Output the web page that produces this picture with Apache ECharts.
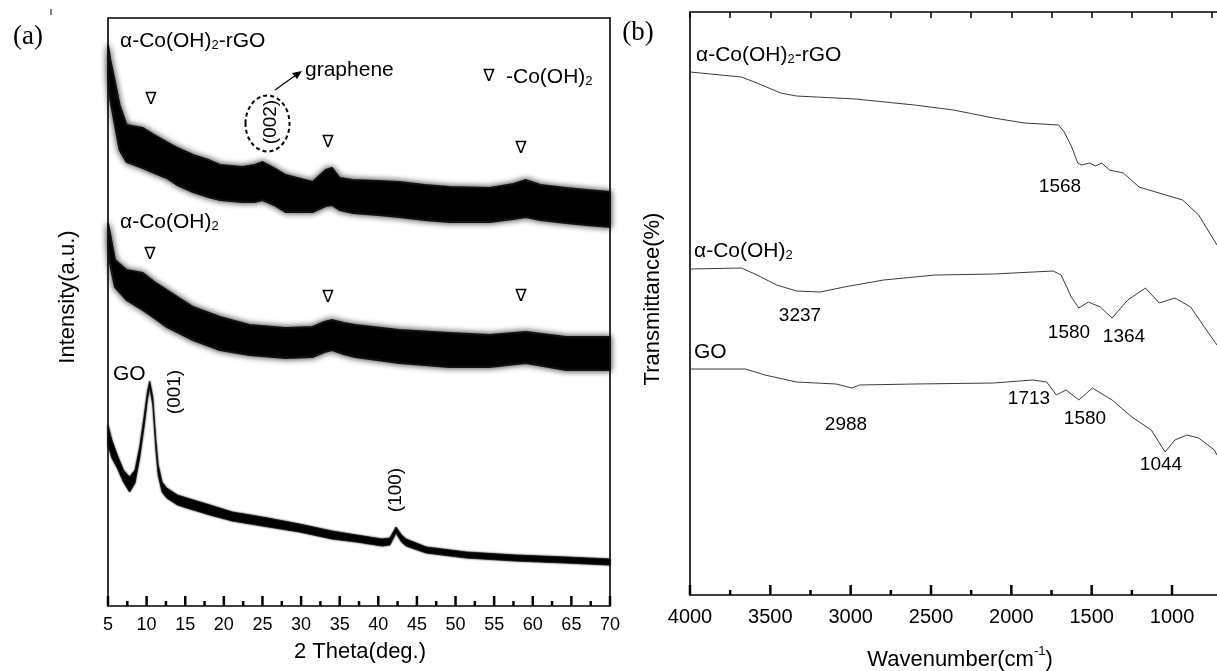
<!DOCTYPE html>
<html><head><meta charset="utf-8">
<script src="https://cdn.jsdelivr.net/npm/echarts@6/dist/echarts.min.js"></script>
<style>html,body{margin:0;padding:0;background:#fff}#c{width:1217px;height:671px}</style>
</head><body><div id="c"></div>
<script>
// ---------- (a) XRD data: band envelopes (intensity a.u.) ----------
const thetaRGO = [5.0,5.3,5.9,6.5,7.4,9.5,11,12.6,14,16,18,19.5,22.4,24,25,26.5,28,31.5,33.2,34,35,36.7,40,42.7,46,49.2,54.4,57.5,59.1,61,64.3,67,70];
const upperRGO = [561,546,524,501,481,478,471,464,458,451,446,441,439,441,444,438,431,424,436,438,428,426,425,424,421,419,418,422,426,421,418,416,414];
const lowerRGO = [531,506,481,456,444,438,433,428,421,414,409,406,404,404,406,401,394,394,400,401,396,393,391,389,386,384,384,387,389,386,383,381,379];

const thetaCo = [5.0,5.3,5.9,7.4,9.5,11,12.6,16,19.5,23.3,28,31.5,33,34,35.5,37,42.7,49.2,54.4,59.1,64.3,70];
const upperCo = [383,371,346,336,333,324,316,299,289,281,278,279,284,286,283,281,276,273,271,274,269,269];
const lowerCo = [361,341,319,306,296,288,279,266,256,251,248,249,254,256,252,249,243,239,239,243,236,236];

const thetaGO = [5.0,5.5,6.2,7.0,7.8,8.5,9.1,9.7,10.1,10.4,10.8,11.2,11.5,12.0,12.6,14,15.2,18.2,21.1,25,29.8,34,37.2,40.5,41.5,42.3,43.0,43.6,46.2,51.4,57.8,64.3,70];
const upperGO = [181,166,151,136,129,136,159,191,214,225,209,166,141,124,118,111,108,101,94,89,82,75,71,67,68,79,71,67,59,54,51,49,47];
const lowerGO = [161,148,138,124,114,123,148,181,206,219,201,156,131,114,108,101,98,91,85,80,74,67,64,60,61,73,64,60,53,48,45,43,41];

// ---------- (b) FTIR data (transmittance, offset a.u.) ----------
const wnRGO = [4000,3680,3583,3436,3337,2970,2603,2360,2111,1917,1706,1671,1624,1587,1562,1513,1476,1438,1389,1303,1205,1081,934,834,720];
const trRGO = [523,518,512,502,499,496,490,485,477,472,470,463,448,432,430,432,429,432,425,422,408,402,395,380,350];
const wnCo = [4000,3680,3583,3460,3337,3190,3040,2795,2475,2111,1740,1690,1627,1580,1520,1447,1373,1275,1165,1080,982,884,786,720];
const trCo = [326,327,320,310,304,303,308,315,320,321,324,320,298,287,293,288,277,295,307,292,297,288,265,250];
const wnGO = [4000,3655,3534,3337,3091,2993,2944,2603,2111,1866,1780,1720,1660,1580,1496,1373,1250,1129,1043,982,908,834,736,720];
const trGO = [226,226,220,213,211,207,210,211,212,215,213,200,205,195,207,195,178,165,143,155,160,157,145,140];

// tick values
const thetaMajor = [5,10,15,20,25,30,35,40,45,50,55,60,65,70];
const thetaMinor = [7.5,12.5,17.5,22.5,27.5,32.5,37.5,42.5,47.5,52.5,57.5,62.5,67.5];
const wnMajor = [1000,1500,2000,2500,3000,3500,4000];
const wnMinor = [1250,1750,2250,2750,3250,3750];
const wnTop = [750,1000,1250,1500,1750,2000,2250,2500,2750,3000,3250,3500,3750,4000];

const FONT = 'Liberation Sans';
const chart = echarts.init(document.getElementById('c'), null, {renderer:'canvas'});

function band(theta, up, lo, name, blur) {
  return {type:'custom', name:name, xAxisIndex:0, yAxisIndex:0, silent:true, z:1,
    data: theta.map((t,i)=>[t, up[i], lo[i]]),
    encode:{x:0, y:[1,2]},
    renderItem:function(params, api){
      if (params.dataIndex !== 0) return null;
      const pts = [];
      for (let i=0;i<theta.length;i++) pts.push(api.coord([theta[i], up[i]]));
      for (let i=theta.length-1;i>=0;i--) pts.push(api.coord([theta[i], lo[i]]));
      return {type:'polygon', shape:{points:pts}, style:{fill:'#000', stroke:'#111', lineWidth:blur>3?2:0.8, shadowBlur:blur, shadowColor:'rgba(0,0,0,0.75)'}};
    }};
}
function ftir(wn, tr, name) {
  return {type:'line', name:name, xAxisIndex:2, yAxisIndex:2, data:wn.map((w,i)=>[w,tr[i]]), symbol:'none', lineStyle:{width:1,color:'#3a3a3a'}, silent:true};
}
// inward tick marks on a bottom axis, placed at axis values through the chart's scales
function tickMarks(xi, yi, vals, len) {
  return {type:'scatter', xAxisIndex:xi, yAxisIndex:yi, silent:true, clip:false, z:5,
    data: vals.map(v=>[v,0]), symbol:'rect', symbolSize:[2.5,len], symbolOffset:[0,-len/2],
    itemStyle:{color:'#000', opacity:1}};
}

const axLine = () => ({show:true, onZero:false, lineStyle:{color:'#000', width:1.6}});
const tsty = {color:'#000', width:1.5};
const txt = (x,y,t,o={}) => ({type:'text', x, y, rotation:o.rot||0, style:{text:t, fill:'#000', font:(o.size||20)+'px "'+(o.family||FONT)+'"', textAlign:o.align||'left', textVerticalAlign:'middle'}});
const sub = (x,y,parts,size) => ({type:'text', x, y, style:{text:parts, fill:'#000', textAlign:'left', textVerticalAlign:'middle',
  rich:{n:{fontFamily:FONT,fontSize:size,lineHeight:24,verticalAlign:'bottom'}, s:{fontFamily:FONT,fontSize:Math.round(size*0.62),lineHeight:1,verticalAlign:'bottom'}}}});
const tri = (x,y) => txt(x,y,'∇',{size:17,family:'DejaVu Sans',align:'center'});

const option = {
  animation:false,
  backgroundColor:'#fff',
  grid:[
    {left:108, top:18, width:502, height:588},
    {left:690, top:12, width:527, height:583}
  ],
  xAxis:[
    {type:'value', gridIndex:0, min:5, max:70, interval:5, position:'bottom',
     axisLine:axLine(), axisTick:{show:false},
     axisLabel:{color:'#000', fontFamily:FONT, fontSize:18, margin:10, formatter:v=>String(v)}, splitLine:{show:false}},
    {type:'value', gridIndex:0, min:5, max:70, position:'top', axisLine:axLine(), axisTick:{show:false}, axisLabel:{show:false}, splitLine:{show:false}},
    {type:'value', gridIndex:1, min:720, max:4000, inverse:true, position:'bottom',
     axisLine:axLine(), axisTick:{show:false},
     axisLabel:{color:'#000', fontFamily:FONT, fontSize:20, margin:12, customValues:wnMajor, formatter:v=>String(v)}, splitLine:{show:false}},
    {type:'value', gridIndex:1, min:720, max:4000, inverse:true, position:'top',
     axisLine:axLine(), axisTick:{show:true, inside:true, length:6, lineStyle:tsty, customValues:wnTop},
     axisLabel:{show:false}, splitLine:{show:false}}
  ],
  yAxis:[
    {type:'value', gridIndex:0, min:0, max:588, position:'left', axisLine:axLine(), axisTick:{show:false}, axisLabel:{show:false}, splitLine:{show:false}},
    {type:'value', gridIndex:0, min:0, max:588, position:'right', axisLine:axLine(), axisTick:{show:false}, axisLabel:{show:false}, splitLine:{show:false}},
    {type:'value', gridIndex:1, min:0, max:583, position:'left', axisLine:axLine(), axisTick:{show:false}, axisLabel:{show:false}, splitLine:{show:false}}
  ],
  series:[
    band(thetaRGO, upperRGO, lowerRGO, 'rGO', 6),
    band(thetaCo, upperCo, lowerCo, 'Co', 6),
    band(thetaGO, upperGO, lowerGO, 'GO', 2),
    ftir(wnRGO, trRGO, 'ftir_rGO'),
    ftir(wnCo, trCo, 'ftir_Co'),
    ftir(wnGO, trGO, 'ftir_GO'),
    tickMarks(0, 0, thetaMajor, 10),
    tickMarks(0, 0, thetaMinor, 5),
    tickMarks(2, 2, wnMajor, 10),
    tickMarks(2, 2, wnMinor, 5)
  ],
  graphic:[
    // panel (a)
    txt(28,37,'(a)',{size:27,family:'Liberation Serif',align:'center'}),
    {type:'line', shape:{x1:51,y1:9,x2:51,y2:15}, style:{stroke:'#000',lineWidth:1}},
    sub(120,40,'{n|α-Co(OH)}{s|2}{n|-rGO}',21),
    txt(305,70,'graphene',{size:21}),
    {type:'line', shape:{x1:275,y1:90,x2:296,y2:75}, style:{stroke:'#000',lineWidth:1.2}},
    {type:'polygon', shape:{points:[[302,71],[292,73],[297,79]]}, style:{fill:'#000'}},
    {type:'ellipse', shape:{cx:267.5,cy:123.5,rx:22,ry:28}, style:{fill:'none',stroke:'#000',lineWidth:2,lineDash:[4,3]}},
    txt(271,122,'(002)',{size:19,align:'center',rot:Math.PI/2}),
    tri(489,77),
    sub(506,76,'{n|-Co(OH)}{s|2}',21),
    tri(151,100), tri(328,143), tri(521,149),
    sub(120,221,'{n|α-Co(OH)}{s|2}',21),
    tri(150,255), tri(328,298), tri(521,297),
    txt(113,374,'GO',{size:21}),
    txt(175,392,'(001)',{size:19,align:'center',rot:Math.PI/2}),
    txt(396,490,'(100)',{size:19,align:'center',rot:Math.PI/2}),
    txt(68,297,'Intensity(a.u.)',{size:22,align:'center',rot:Math.PI/2}),
    txt(360,652,'2 Theta(deg.)',{size:22,align:'center'}),
    // panel (b)
    txt(638,33,'(b)',{size:27,family:'Liberation Serif',align:'center'}),
    sub(696,54,'{n|α-Co(OH)}{s|2}{n|-rGO}',21),
    txt(1060,187,'1568',{size:19,align:'center'}),
    sub(694,250,'{n|α-Co(OH)}{s|2}',21),
    txt(800,316,'3237',{size:19,align:'center'}),
    txt(1069,333,'1580',{size:19,align:'center'}),
    txt(1124,337,'1364',{size:19,align:'center'}),
    txt(694,352,'GO',{size:21}),
    txt(846,425,'2988',{size:19,align:'center'}),
    txt(1029,399,'1713',{size:19,align:'center'}),
    txt(1085,419,'1580',{size:19,align:'center'}),
    txt(1161,465,'1044',{size:19,align:'center'}),
    txt(653,299,'Transmittance(%)',{size:22,align:'center',rot:Math.PI/2}),
    {type:'text', x:960, y:658, style:{text:'{n|Wavenumber(cm}{p|-1}{n|)}', fill:'#000', textAlign:'center', textVerticalAlign:'middle',
      rich:{n:{fontFamily:FONT,fontSize:22,lineHeight:26,verticalAlign:'bottom'}, p:{fontFamily:FONT,fontSize:13,lineHeight:10,verticalAlign:'top'}}}}
  ]
};
chart.setOption(option);
</script>
</body></html>
